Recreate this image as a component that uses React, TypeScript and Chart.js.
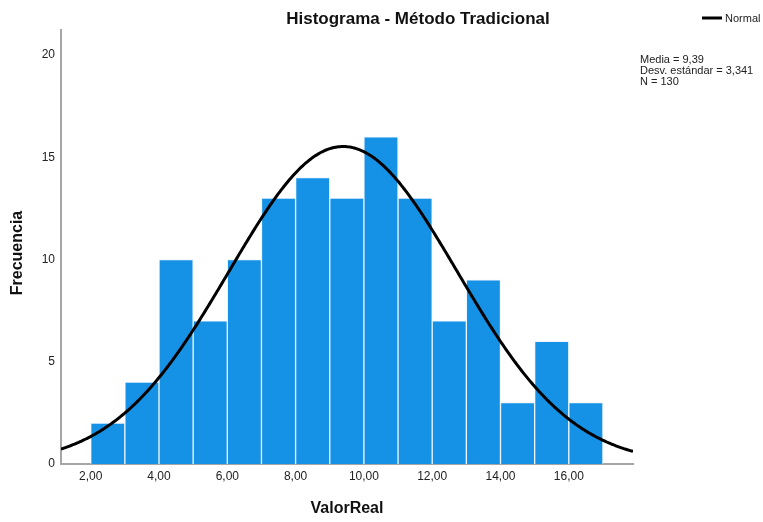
import React, { useEffect, useRef } from "react";
import { Chart, registerables } from "chart.js";

Chart.register(...registerables);

// Histogram bins (lower edge of each unit-wide bin) and their counts
const binStarts = [2, 3, 4, 5, 6, 7, 8, 9, 10, 11, 12, 13, 14, 15, 16];
const frequencies = [2, 4, 10, 7, 10, 13, 14, 13, 16, 13, 7, 9, 3, 6, 3];
const binWidth = 1;

// Axis tick labels
const xTickValues = [2, 4, 6, 8, 10, 12, 14, 16];
const yTickValues = [0, 5, 10, 15, 20];

// Summary statistics of the sample (used for the fitted normal curve)
const mean = 9.39;
const stdDev = 3.341;
const sampleSize = 130;

const statsLines = ["Media = 9,39", "Desv. estándar = 3,341", "N = 130"];

const xMin = 1.13;
const xMax = 17.88;
const yMax = 21.22;

const FONT = "'Liberation Sans', Arial, Helvetica, sans-serif";

const formatComma = (v: number) => v.toFixed(2).replace(".", ",");

// Expected count per bin under the fitted normal distribution
const normalCurve = (() => {
  const pts: { x: number; y: number }[] = [];
  const steps = 400;
  for (let i = 0; i <= steps; i++) {
    const x = xMin + ((xMax - xMin) * i) / steps;
    const z = (x - mean) / stdDev;
    const pdf = Math.exp(-0.5 * z * z) / (stdDev * Math.sqrt(2 * Math.PI));
    pts.push({ x, y: pdf * sampleSize * binWidth });
  }
  return pts;
})();

const overlayPlugin = {
  id: "histOverlay",
  afterDraw(chart: Chart) {
    const ctx = chart.ctx;
    ctx.save();
    // Title
    ctx.fillStyle = "#111";
    ctx.font = `bold 17px ${FONT}`;
    ctx.textAlign = "center";
    ctx.textBaseline = "middle";
    ctx.fillText("Histograma - Método Tradicional", 418, 19);

    // Legend
    ctx.strokeStyle = "#000";
    ctx.lineWidth = 3;
    ctx.beginPath();
    ctx.moveTo(702, 18);
    ctx.lineTo(722, 18);
    ctx.stroke();
    ctx.fillStyle = "#222";
    ctx.font = `11px ${FONT}`;
    ctx.textAlign = "left";
    ctx.fillText("Normal", 725, 19);

    // Statistics box
    statsLines.forEach((line, i) => {
      ctx.fillText(line, 640, 60 + i * 11);
    });

    // Vertical axis title
    ctx.fillStyle = "#111";
    ctx.font = `bold 16px ${FONT}`;
    ctx.textAlign = "center";
    ctx.translate(18, 253);
    ctx.rotate(-Math.PI / 2);
    ctx.fillText("Frecuencia", 0, 0);
    ctx.restore();
  },
};

export default function App() {
  const canvasRef = useRef<HTMLCanvasElement | null>(null);

  useEffect(() => {
    if (!canvasRef.current) return;
    const chart = new Chart(canvasRef.current, {
      type: "bar",
      data: {
        datasets: [
          {
            type: "line",
            label: "Normal",
            data: normalCurve,
            borderColor: "#000",
            borderWidth: 3,
            pointRadius: 0,
            tension: 0,
            fill: false,
            order: 0,
          } as any,
          {
            type: "bar",
            label: "Frecuencia",
            data: binStarts.map((b, i) => ({ x: b + binWidth / 2, y: frequencies[i] })),
            backgroundColor: "#1591e6",
            borderColor: "rgba(235,245,255,0.9)",
            borderWidth: 1,
            categoryPercentage: 1,
            barPercentage: 1,
            order: 1,
          } as any,
        ],
      },
      options: {
        responsive: false,
        animation: false,
        layout: { padding: { left: 0, top: 30, right: 130, bottom: 0 } },
        plugins: {
          legend: { display: false },
          title: { display: false },
          tooltip: { enabled: false },
        },
        scales: {
          x: {
            type: "linear",
            min: xMin,
            max: xMax,
            offset: false,
            grid: { display: false, drawTicks: false, offset: false },
            border: { display: true, color: "#a6a6a6", width: 2 },
            afterBuildTicks: (scale: any) => {
              scale.ticks = xTickValues.map((v) => ({ value: v }));
            },
            afterFit: (scale: any) => {
              scale.height = 58;
            },
            ticks: {
              color: "#222",
              font: { family: FONT, size: 12 },
              padding: 5,
              maxRotation: 0,
              autoSkip: false,
              callback: (v: any) => formatComma(Number(v)),
            },
            title: {
              display: true,
              text: "ValorReal",
              color: "#111",
              font: { family: FONT, size: 16, weight: "bold" },
              padding: { top: 0, bottom: 4 },
            },
          },
          y: {
            type: "linear",
            min: 0,
            max: yMax,
            grid: { display: false, drawTicks: false },
            border: { display: true, color: "#a6a6a6", width: 2 },
            afterBuildTicks: (scale: any) => {
              scale.ticks = yTickValues.map((v) => ({ value: v }));
            },
            afterFit: (scale: any) => {
              scale.width = 61;
            },
            ticks: {
              color: "#222",
              font: { family: FONT, size: 12 },
              padding: 6,
              callback: (v: any) => String(v),
            },
            title: { display: false },
          },
        },
      } as any,
      plugins: [overlayPlugin],
    });
    return () => chart.destroy();
  }, []);

  return (
    <div style={{ position: "absolute", left: 0, top: 0, width: 763, height: 522, background: "#fff" }}>
      <canvas ref={canvasRef} width={763} height={522} style={{ display: "block" }} />
    </div>
  );
}
